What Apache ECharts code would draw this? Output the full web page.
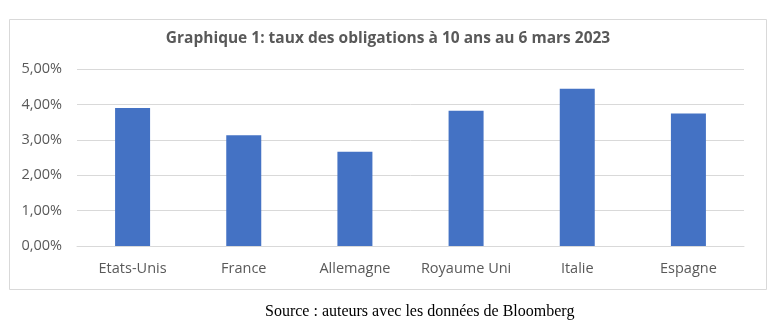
<!DOCTYPE html>
<html>
<head>
<meta charset="utf-8">
<script src="https://cdn.jsdelivr.net/npm/echarts@6/dist/echarts.min.js"></script>
<style>
  html, body { margin: 0; padding: 0; background: #fff; }
  #chart { width: 781px; height: 327px; }
</style>
</head>
<body>
<div id="chart"></div>
<script>
// 10-year government bond yields, 6 March 2023 (percent)
const countries = ['Etats-Unis', 'France', 'Allemagne', 'Royaume Uni', 'Italie', 'Espagne'];
const yields = [3.90, 3.13, 2.66, 3.82, 4.44, 3.74];
const titleText = 'Graphique 1: taux des obligations à 10 ans au 6 mars 2023';
const sourceText = 'Source : auteurs avec les données de Bloomberg';

const axisFont = 'Open Sans, Liberation Sans, sans-serif';
const chart = echarts.init(document.getElementById('chart'), null, { renderer: 'canvas' });

chart.setOption({
  animation: false,
  backgroundColor: '#ffffff',
  title: {
    text: titleText,
    left: 383,
    textAlign: 'center',
    top: 26,
    textStyle: { fontFamily: axisFont, fontSize: 15.5, fontWeight: 'bold', color: '#595959' }
  },
  grid: { left: 77, right: 37, top: 69, bottom: 81, containLabel: false },
  xAxis: {
    type: 'category',
    data: countries,
    axisLine: { show: true, lineStyle: { color: '#d9d9d9' } },
    axisTick: { show: false },
    axisLabel: { color: '#595959', fontFamily: axisFont, fontSize: 14.5, margin: 15, interval: 0 }
  },
  yAxis: {
    type: 'value',
    min: 0,
    max: 5,
    interval: 1,
    axisLine: { show: false },
    axisTick: { show: false },
    splitLine: { lineStyle: { color: '#d9d9d9' } },
    axisLabel: {
      color: '#595959', fontFamily: axisFont, fontSize: 14.5, margin: 15,
      formatter: v => v.toFixed(2).replace('.', ',') + '%'
    }
  },
  series: [{
    type: 'bar',
    data: yields,
    barWidth: 35,
    itemStyle: { color: '#4472c4' }
  }],
  graphic: [
    {
      type: 'rect',
      shape: { x: 9.5, y: 19.5, width: 757, height: 270 },
      style: { fill: 'none', stroke: '#d9d9d9', lineWidth: 1 },
      z: -1
    },
    {
      type: 'text',
      left: 265,
      top: 304,
      style: { text: sourceText, fill: '#000', font: '16px "Liberation Serif", serif' }
    }
  ]
});
</script>
</body>
</html>
